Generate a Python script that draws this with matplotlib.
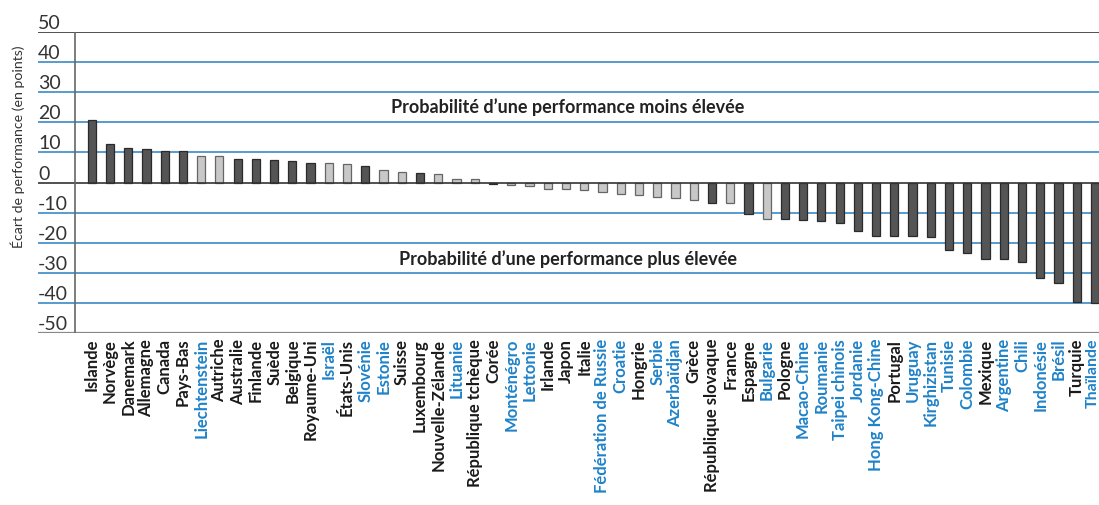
import numpy as np
import matplotlib.pyplot as plt
import matplotlib.transforms as mtransforms

countries = ["Islande", "Norvège", "Danemark", "Allemagne", "Canada", "Pays-Bas",
             "Liechtenstein", "Autriche", "Australie", "Finlande", "Suède", "Belgique",
             "Royaume-Uni", "Israël", "États-Unis", "Slovénie", "Estonie", "Suisse",
             "Luxembourg", "Nouvelle-Zélande", "Lituanie", "République tchèque", "Corée",
             "Monténégro", "Lettonie", "Irlande", "Japon", "Italie", "Fédération de Russie",
             "Croatie", "Hongrie", "Serbie", "Azerbaïdjan", "Grèce", "République slovaque",
             "France", "Espagne", "Bulgarie", "Pologne", "Macao-Chine", "Roumanie",
             "Taipei chinois", "Jordanie", "Hong Kong-Chine", "Portugal", "Uruguay",
             "Kirghizistan", "Tunisie", "Colombie", "Mexique", "Argentine", "Chili",
             "Indonésie", "Brésil", "Turquie", "Thaïlande"]

gap = [20.8, 12.7, 11.4, 11.1, 10.5, 10.5, 8.9, 8.8, 7.9, 7.7, 7.5, 7.2,
       6.6, 6.4, 6.1, 5.5, 4.2, 3.6, 3.2, 2.7, 1.0, 1.0, -0.5,
       -0.9, -1.3, -2.0, -2.1, -2.6, -3.3, -3.8, -4.2, -4.8, -5.1, -5.7, -6.9,
       -6.9, -10.3, -12.0, -12.2, -12.4, -12.9, -13.4, -16.0, -17.7, -17.7, -17.9,
       -18.2, -22.5, -23.4, -25.2, -25.3, -26.3, -31.6, -33.4, -39.6, -40.0]

# 1 = significant difference (dark bar), 0 = not significant (light bar)
significant = [1, 1, 1, 1, 1, 1, 0, 0, 1, 1, 1, 1, 1, 0, 0, 1, 0, 0, 1, 0, 0, 0, 1,
               0, 0, 0, 0, 0, 0, 0, 0, 0, 0, 0, 1, 0, 1, 0, 1, 1, 1, 1, 1, 1, 1, 1,
               1, 1, 1, 1, 1, 1, 1, 1, 1, 1]

partners = ["Liechtenstein", "Israël", "Slovénie", "Estonie", "Lituanie", "Monténégro",
            "Lettonie", "Fédération de Russie", "Croatie", "Serbie", "Azerbaïdjan",
            "Bulgarie", "Macao-Chine", "Roumanie", "Taipei chinois", "Jordanie",
            "Hong Kong-Chine", "Uruguay", "Kirghizistan", "Tunisie", "Colombie",
            "Argentine", "Chili", "Indonésie", "Brésil", "Thaïlande"]

yticks = [50, 40, 30, 20, 10, 0, -10, -20, -30, -40, -50]

plt.rcParams['font.family'] = ['Lato', 'DejaVu Sans']

W, H = 1099, 505
fig = plt.figure(figsize=(W / 100, H / 100), dpi=100)
ax = fig.add_axes([38 / W, (H - 333.3) / H, (W - 38) / W, (333.3 - 31.7) / H])

x = np.arange(len(countries))
dark, light = '#555555', '#c8c8c8'
cols = [dark if s else light for s in significant]
edges = ['#2a2a2a' if s else '#666666' for s in significant]
ax.bar(x, gap, width=0.45, color=cols, edgecolor=edges, linewidth=0.9, zorder=3)

ax.set_ylim(-50, 50)
ax.set_xlim(-2.944, 55.22)

for v in yticks:
    if v in (50, 0):
        ax.axhline(v, color='#333333', lw=1.2, zorder=4)
    elif v == -50:
        ax.axhline(v, color='#888888', lw=1.6, zorder=4)
    else:
        ax.axhline(v, color='#3b8ac6', lw=1.2, zorder=1)
    ax.text(0.0, v, str(v), transform=ax.get_yaxis_transform(), ha='left',
            va='bottom', fontsize=14, color='#333333')

ax.axvline(-0.916, color='#666666', lw=1.2, zorder=4)

for s in ax.spines.values():
    s.set_visible(False)
ax.set_yticks([])
ax.set_xticks(x)
ax.set_xticklabels(countries, rotation=90, fontsize=12, fontweight='bold')
ax.tick_params(axis='x', length=0, pad=4)
for lab in ax.get_xticklabels():
    lab.set_color('#1f82c8' if lab.get_text() in partners else '#1a1a1a')

# last label sits on the right edge; nudge it in a little so it is not clipped
last = ax.get_xticklabels()[-1]
last.set_fontsize(11.5)
last.set_transform(last.get_transform() +
                   mtransforms.ScaledTranslation(-2.5 / 100, 0, fig.dpi_scale_trans))

ax.text(26.1, 25, "Probabilité d\u2019une performance moins élevée", ha='center',
        va='center', fontsize=13, fontweight='bold', color='#222222')
ax.text(26.1, -25.3, "Probabilité d\u2019une performance plus élevée", ha='center',
        va='center', fontsize=13, fontweight='bold', color='#222222')

fig.text(18 / W, 1 - 147 / H, "Écart de performance (en points)", rotation=90,
         ha='center', va='center', fontsize=10.2, color='#333333')

fig.savefig('out.png', dpi=100)
